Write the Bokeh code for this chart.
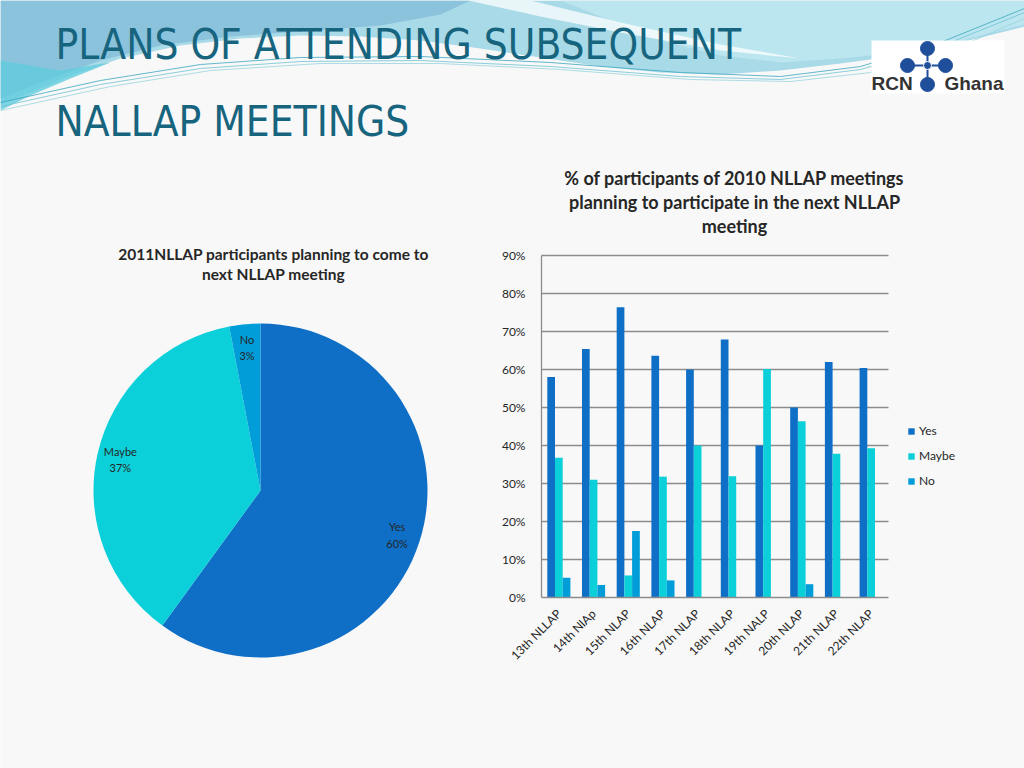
import numpy as np
from bokeh.plotting import figure
from bokeh.models import (Range1d, NumeralTickFormatter, FixedTicker, LinearAxis,
                          Legend, LegendItem, ColumnDataSource)
from bokeh.transform import dodge
from bokeh.core.properties import value
from bokeh.embed import file_html
from bokeh.resources import INLINE

# ---------------- data ----------------
title_lines = ["PLANS OF ATTENDING SUBSEQUENT", "NALLAP MEETINGS"]

pie_title_lines = ["2011NLLAP participants planning to come to", "next NLLAP meeting"]
pie_labels = ["Yes", "Maybe", "No"]
pie_values = [60, 37, 3]

bar_title_lines = ["% of participants of 2010 NLLAP meetings",
                   "planning to participate in the next NLLAP",
                   "meeting"]
meetings = ["13th NLLAP", "14th NlAp", "15th NLAP", "16th NLAP", "17th NLAP",
            "18th NLAP", "19th NALP", "20th NLAP", "21th NLAP", "22th NLAP"]
yes = [0.580, 0.654, 0.764, 0.636, 0.600, 0.679, 0.400, 0.500, 0.620, 0.604]
maybe = [0.368, 0.310, 0.058, 0.318, 0.400, 0.319, 0.601, 0.464, 0.378, 0.393]
no = [0.052, 0.033, 0.175, 0.045, 0.0, 0.0, 0.0, 0.035, 0.0, 0.0]
y_ticks = [0, 0.1, 0.2, 0.3, 0.4, 0.5, 0.6, 0.7, 0.8, 0.9]

series_names = ["Yes", "Maybe", "No"]
colors = ["#0F6FC6", "#0BD0D9", "#009DD9"]

BG = "#F8F8F8"
TXT = "#262626"
FONT = "Lato"
TITLE_FONT = "DejaVu Sans Condensed, Roboto"

# page geometry in screen pixels (Bokeh's page template has no body margin)
X0, X1, Y0, Y1 = 0, 1024, 0, 768
BAR_L, BAR_R, BAR_T, BAR_B = 541, 888, 255, 597
LEG_L, LEG_B = 907, 488

p = figure(width=X1 - X0, height=Y1 - Y0, x_range=Range1d(X0, X1), y_range=Range1d(-Y1, -Y0),
           output_backend="svg", toolbar_location=None, x_axis_location=None,
           y_axis_location=None, min_border=0, background_fill_color=BG,
           border_fill_color=BG)
p.grid.visible = False
p.outline_line_color = None

# ---------------- top banner decoration ----------------
def poly(pts, **kw):
    p.patch([q[0] for q in pts], [-q[1] for q in pts], line_color=None, **kw)

poly([(0, 0), (1024, 0), (1024, 26), (960, 42), (900, 55), (840, 63), (780, 70), (720, 74),
      (660, 72), (600, 66), (540, 57), (480, 48), (420, 40), (360, 36), (300, 35),
      (240, 38), (180, 45), (120, 58), (70, 75), (30, 92), (0, 104)], color="#A9DAE8")
poly([(0, 0), (470, 0), (440, 14), (380, 25), (300, 31), (230, 36), (160, 45),
      (100, 60), (50, 78), (0, 98)], color="#86BDD9", alpha=0.85)
poly([(0, 60), (60, 70), (110, 62), (70, 78), (30, 95), (0, 110)], color="#62CCDD", alpha=0.8)
poly([(560, 0), (1024, 0), (1024, 24), (960, 40), (900, 52), (840, 58), (780, 62),
      (720, 55), (660, 40), (610, 20)], color="#BCE6EF", alpha=0.9)
poly([(468, 0), (530, 0), (620, 22), (720, 44), (800, 58), (720, 50), (620, 32), (540, 16)],
     color="white", alpha=0.75)

lines_x = [[0, 100, 200, 300, 420, 550, 680, 780, 860, 940, 1024],
           [0, 100, 200, 300, 420, 550, 680, 780, 860, 940, 1024],
           [0, 110, 210, 320, 440, 560, 690, 790, 870, 950, 1024]]
lines_y = [[102, 80, 64, 57, 56, 62, 72, 76, 66, 42, 8],
           [106, 84, 68, 61, 60, 66, 76, 79, 69, 46, 12],
           [110, 86, 70, 63, 63, 69, 79, 81, 72, 50, 18]]
p.multi_line(lines_x, [[-v for v in ys] for ys in lines_y],
             line_color=["#3BA7BE", "#6FC3D3", "#9AD3DE"], line_width=1, line_alpha=0.8)

p.text(x=[55, 55], y=[-44, -121], text=title_lines,
       text_font=value(TITLE_FONT), text_font_size="42px",
       text_color="#17647E", text_baseline="middle", text_align="left")

# logo
p.quad(left=[871], right=[1004], top=[-40], bottom=[-93], color="white", line_color=None)
logo_c = "#1F4F9B"
p.segment(x0=[927, 907], y0=[-47, -65], x1=[927, 945], y1=[-84, -65],
          line_color=logo_c, line_width=2)
p.circle(x=[927, 907, 945, 927], y=[-48, -65, -65, -84], radius=7, color=logo_c)
p.circle(x=[927], y=[-65], radius=4, color=logo_c, line_color="white")
p.text(x=[871], y=[-83], text=["RCN"], text_font=value("Liberation Sans"),
       text_font_style="bold", text_font_size="19px", text_color="#333333",
       text_baseline="middle")
p.text(x=[1003], y=[-83], text=["Ghana"], text_font=value("Liberation Sans"),
       text_font_style="bold", text_font_size="19px", text_color="#333333",
       text_baseline="middle", text_align="right")

# ---------------- pie ----------------
cx, cy, R = 260, -490, 167
vals = np.array(pie_values, dtype=float) / sum(pie_values)
ends = np.cumsum(vals)
starts = ends - vals
start_ang = np.pi / 2 - 2 * np.pi * starts
end_ang = np.pi / 2 - 2 * np.pi * ends
p.wedge(x=cx, y=cy, radius=R, start_angle=start_ang, end_angle=end_ang,
        direction="clock", fill_color=colors, line_color=None)
mid = (start_ang + end_ang) / 2
lx = cx + 0.86 * R * np.cos(mid)
ly = cy + 0.86 * R * np.sin(mid)
p.text(x=lx, y=ly, text=[f"{l}\n{v}%" for l, v in zip(pie_labels, pie_values)],
       text_font=value(FONT), text_font_size="11px", text_color=TXT,
       text_align="center", text_baseline="middle", text_line_height=1.25)
p.text(x=[273, 273], y=[-253, -273], text=pie_title_lines, text_font=value(FONT),
       text_font_style="bold", text_font_size="15.5px", text_color=TXT,
       text_align="center", text_baseline="middle")

# ---------------- bar chart (own scales) ----------------
p.text(x=[734, 734, 734], y=[-177, -201, -225], text=bar_title_lines,
       text_font=value(FONT), text_font_style="bold", text_font_size="18px",
       text_color=TXT, text_align="center", text_baseline="middle")

n = len(meetings)
ymax = y_ticks[-1]
ux = (BAR_R - BAR_L) / n
uy = (BAR_B - BAR_T) / ymax
p.extra_x_ranges = {"cats": Range1d(-0.5 - (BAR_L - X0) / ux, n - 0.5 + (X1 - BAR_R) / ux)}
p.extra_y_ranges = {"pct": Range1d(-(Y1 - BAR_B) / uy, ymax + (BAR_T - Y0) / uy)}

idx = np.arange(n)
src = ColumnDataSource(dict(idx=idx, yes=yes, maybe=maybe, no=no))

grid_color = "#8C8C8C"
p.segment(x0=-0.5, x1=n - 0.5, y0=y_ticks[1:], y1=y_ticks[1:], line_color=grid_color,
          line_width=1.3, x_range_name="cats", y_range_name="pct")

bw = 0.222
rends = []
for off, col, c in zip([-bw, 0, bw], ["yes", "maybe", "no"], colors):
    rends.append(p.vbar(x=dodge("idx", off), top=col, width=bw, source=src, fill_color=c,
                        line_color=None, x_range_name="cats", y_range_name="pct"))

yaxis = LinearAxis(x_range_name="cats", y_range_name="pct", fixed_location=-0.5,
                   bounds=(0, ymax), ticker=FixedTicker(ticks=y_ticks),
                   formatter=NumeralTickFormatter(format="0%"))
xaxis = LinearAxis(x_range_name="cats", y_range_name="pct", fixed_location=0,
                   bounds=(-0.5, n - 0.5), ticker=FixedTicker(ticks=[int(i) for i in idx]),
                   major_label_overrides={int(i): m for i, m in zip(idx, meetings)})
for ax in (xaxis, yaxis):
    ax.axis_line_color = grid_color
    ax.axis_line_width = 1.3
    ax.major_tick_line_color = None
    ax.minor_tick_line_color = None
    ax.major_label_text_font = FONT
    ax.major_label_text_font_size = "12px"
    ax.major_label_text_color = TXT
yaxis.major_label_standoff = 10
xaxis.major_label_orientation = np.pi / 4
xaxis.major_label_standoff = 8
p.add_layout(yaxis, "left")
p.add_layout(xaxis, "below")

legend = Legend(items=[LegendItem(label=nm, renderers=[r]) for nm, r in zip(series_names, rends)],
                location=(LEG_L - X0, Y1 - LEG_B), orientation="vertical",
                border_line_color=None, background_fill_alpha=0, glyph_width=8,
                glyph_height=8, label_height=14, spacing=10, padding=5, margin=0,
                label_text_font=FONT, label_text_font_size="12px", label_text_color=TXT,
                label_standoff=4)
p.add_layout(legend)

html = file_html(p, INLINE)
html = html.replace("<body>", '<body style="background:#F8F8F8">', 1)
open("out.html", "w").write(html)
